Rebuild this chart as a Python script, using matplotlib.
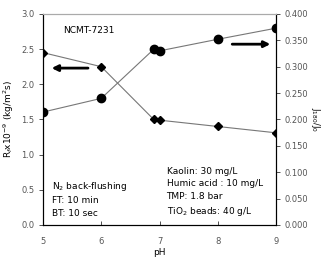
import numpy as np
import matplotlib.pyplot as plt

plt.rcParams['font.family'] = ['DejaVu Sans']

# data
ph = [5, 6, 6.9, 7.0, 8, 9]
rf = [2.45, 2.25, 1.50, 1.49, 1.40, 1.31]        # left axis, diamonds
j_ratio = [0.214, 0.240, 0.333, 0.330, 0.352, 0.373]  # right axis, circles

x_ticks = [5, 6, 7, 8, 9]
left_ticks = [0.0, 0.5, 1.0, 1.5, 2.0, 2.5, 3.0]
right_ticks = [0.0, 0.05, 0.1, 0.15, 0.2, 0.25, 0.3, 0.35, 0.4]

fig = plt.figure(figsize=(3.21, 2.58), dpi=100)
ax = fig.add_axes([0.134, 0.128, 0.726, 0.818])
ax2 = ax.twinx()

ax.plot(ph, rf, color='#777777', lw=0.8, marker='D', ms=4.5,
        mfc='black', mec='black', zorder=3)
ax2.plot(ph, j_ratio, color='#777777', lw=0.8, marker='o', ms=6,
         mfc='black', mec='black', zorder=3)

ax.set_xlim(5, 9)
ax.set_ylim(0, 3.0)
ax2.set_ylim(0, 0.4)
ax.set_xticks(x_ticks)
ax.set_yticks(left_ticks)
ax.set_yticklabels(['%.1f' % v for v in left_ticks])
ax2.set_yticks(right_ticks)
ax2.set_yticklabels(['%.3f' % v for v in right_ticks])

tc = '#555555'
for a in (ax, ax2):
    a.tick_params(labelsize=6, colors='#333333', labelcolor=tc, length=3, width=0.6)
ax.tick_params(axis='x', direction='in', pad=9)
ax.tick_params(axis='y', direction='out', pad=3)
ax2.tick_params(axis='y', direction='out', pad=3)

for name, s in ax.spines.items():
    s.set_linewidth(0.8)
ax.spines['top'].set_color('#aaaaaa')
ax2.spines['top'].set_color('#aaaaaa')
ax2.spines['right'].set_linewidth(0.8)

ax.set_xlabel('pH', fontsize=6.5, labelpad=1)
ax.set_ylabel(r'R$_f$x10$^{-9}$ (kg/m$^2$s)', fontsize=6.5, labelpad=4)
ax2.set_ylabel(r'J$_{180}$/J$_0$', fontsize=6, rotation=270, labelpad=10)

# arrows pointing to each axis
ax.annotate('', xy=(5.1, 2.23), xytext=(5.82, 2.23),
            arrowprops=dict(arrowstyle='-|>', color='black', lw=2, mutation_scale=9))
ax.annotate('', xy=(8.95, 2.57), xytext=(8.2, 2.57),
            arrowprops=dict(arrowstyle='-|>', color='black', lw=2, mutation_scale=9))

ax.text(0.085, 0.945, 'NCMT-7231', transform=ax.transAxes, fontsize=6.5,
        va='top', ha='left')
ax.text(0.04, 0.035, 'N$_2$ back-flushing\nFT: 10 min\nBT: 10 sec',
        transform=ax.transAxes, fontsize=6.5, va='bottom', ha='left', linespacing=1.45)
ax.text(0.53, 0.035, 'Kaolin: 30 mg/L\nHumic acid : 10 mg/L\nTMP: 1.8 bar\nTiO$_2$ beads: 40 g/L',
        transform=ax.transAxes, fontsize=6.5, va='bottom', ha='left', linespacing=1.45)

fig.savefig('out.png', dpi=100)
